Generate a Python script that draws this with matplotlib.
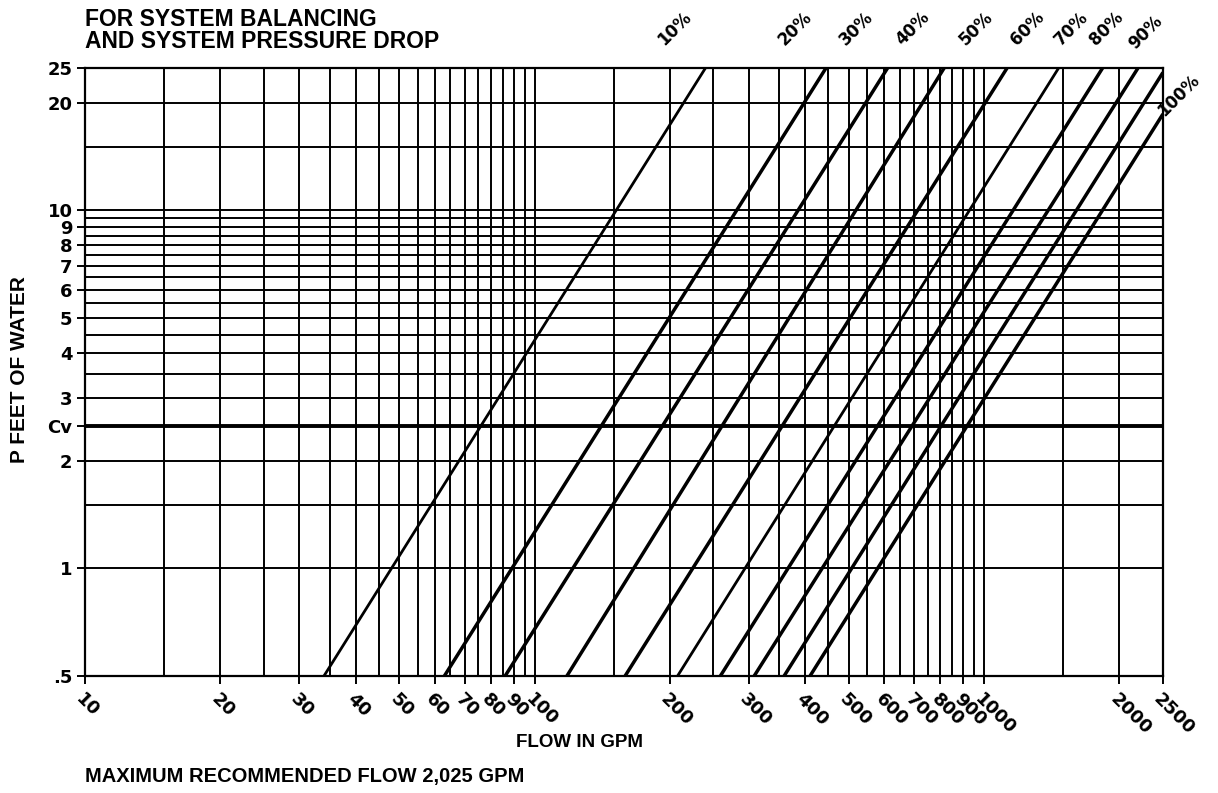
import matplotlib
matplotlib.use("Agg")
import matplotlib.pyplot as plt
import numpy as np
from matplotlib.ticker import NullFormatter

plt.rcParams['font.family'] = ['Liberation Sans', 'DejaVu Sans']
plt.rcParams['font.weight'] = 'bold'

# valve opening curves: flow (GPM) where each line meets the bottom edge (0.5 ft)
# and where it leaves the chart (top edge, or right edge for 90/100 %)
openings = ["10%", "20%", "30%", "40%", "50%", "60%", "70%", "80%", "90%", "100%"]
flow_bottom = [34, 63, 86, 118, 159, 208, 259, 308, 359, 410]
flow_top = [240, 445, 610, 815, 1125, 1465, 1835, 2200, 2500, 2500]
dp_top = [25, 25, 25, 25, 25, 25, 25, 25, 24.3, 18.6]
dp_bottom = 0.5
thin_lines = ["10%", "60%"]

cv_dp = 2.5

x_ticks = [10, 20, 30, 40, 50, 60, 70, 80, 90, 100, 200, 300, 400, 500,
           600, 700, 800, 900, 1000, 2000, 2500]
x_labels = ["10", "20", "30", "40", "50", "60", "70", "80", "90", "100", "200",
            "300", "400", "500", "600", "700", "800", "900", "1000", "2000", "2500"]
y_ticks = [0.5, 1, 2, cv_dp, 3, 4, 5, 6, 7, 8, 9, 10, 20, 25]
y_labels = [".5", "1", "2", "Cv", "3", "4", "5", "6", "7", "8", "9", "10", "20", "25"]

# grid spacing of the printed chart paper
x_minor = list(np.arange(15, 100, 10)) + list(np.arange(150, 1000, 100)) + [1500]
y_minor = [1.5, 3.5, 4.5, 5.5, 6.5, 7.5, 8.5, 9.5, 15]

stencil = ['DejaVu Sans']

fig = plt.figure(figsize=(12.18, 7.93), dpi=100)
ax = fig.add_axes([0.0698, 0.1475, 0.8850, 0.7667])
ax.set_xscale("log")
ax.set_yscale("log")
ax.set_xlim(10, 2500)
ax.set_ylim(0.5, 25)

ax.set_xticks(x_ticks, x_labels)
ax.set_yticks(y_ticks, y_labels)
ax.set_xticks(x_minor, minor=True)
ax.set_yticks(y_minor, minor=True)
ax.xaxis.set_minor_formatter(NullFormatter())
ax.yaxis.set_minor_formatter(NullFormatter())

ax.grid(True, which="both", color="black", linewidth=1.4)
ax.tick_params(which="major", length=6, width=1.4, color="black")
ax.tick_params(which="minor", length=0)
ax.tick_params(axis="y", pad=3)
ax.tick_params(axis="x", pad=4)
for lab in ax.get_yticklabels():
    lab.set_family(stencil)
    lab.set_fontsize(13)
for lab in ax.get_xticklabels():
    lab.set_family(stencil)
    lab.set_fontsize(13)
    lab.set_rotation(-45)
    lab.set_ha("left")
    lab.set_va("top")
    lab.set_rotation_mode("anchor")
for sp in ax.spines.values():
    sp.set_linewidth(1.6)

ax.axhline(cv_dp, color="black", linewidth=2.8)

for name, qb, qt, dpt in zip(openings, flow_bottom, flow_top, dp_top):
    lw = 2.0 if name in thin_lines else 2.5
    ax.plot([qb, qt], [dp_bottom, dpt], color="black", linewidth=lw,
            solid_capstyle="butt")
    if name == "100%":
        off = (3, -4)
    elif name == "90%":
        off = (-18, 14)
    else:
        off = (-28, 14)
    ax.annotate(name, (qt, dpt), xytext=off, textcoords="offset points",
                rotation=45, ha="left", va="bottom", rotation_mode="anchor",
                fontsize=12, family=stencil, annotation_clip=False)

fig.text(0.0698, 0.967, "FOR SYSTEM BALANCING", ha="left", va="baseline",
         fontsize=16.5)
fig.text(0.0698, 0.9395, "AND SYSTEM PRESSURE DROP", ha="left", va="baseline",
         fontsize=16.5)
fig.text(0.016, 0.5334, "P FEET OF WATER", rotation=90, ha="center",
         va="center", fontsize=15)
fig.text(0.476, 0.064, "FLOW IN GPM", ha="center", va="center", fontsize=13.5)
fig.text(0.0698, 0.021, "MAXIMUM RECOMMENDED FLOW 2,025 GPM", ha="left",
         va="center", fontsize=14.5)

fig.savefig("out.png", dpi=100)
